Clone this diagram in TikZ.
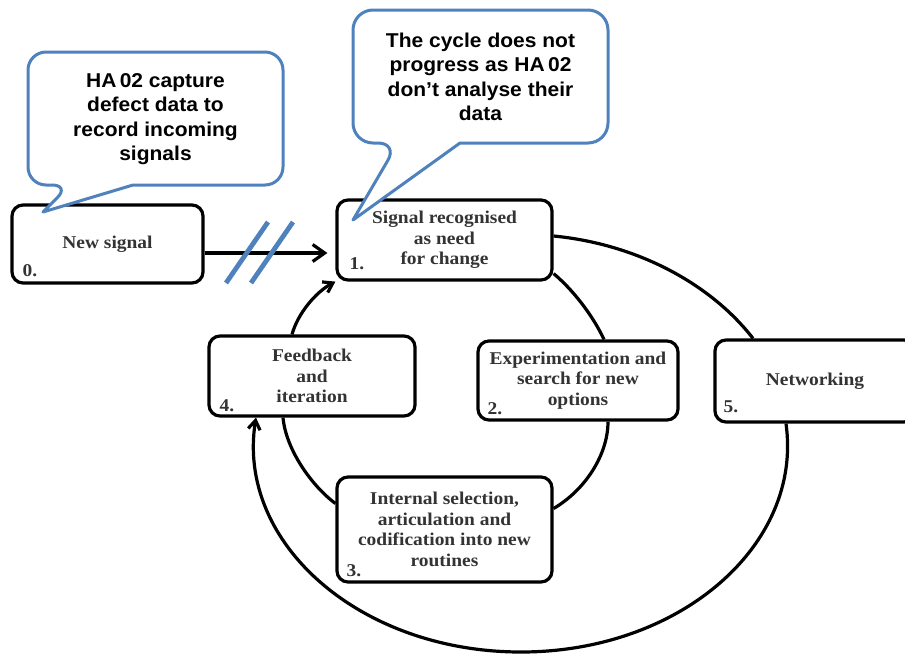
\documentclass[tikz,border=0pt]{standalone}
\usepackage{fontspec}
\setmainfont{Liberation Serif}
\newfontfamily\stagefont[FakeStretch=1.08]{Liberation Serif}
\newfontfamily\calloutfont[FakeStretch=1.05]{Liberation Sans}
\usetikzlibrary{arrows.meta}
\definecolor{calloutblue}{RGB}{79,129,189}
\definecolor{boxtext}{gray}{0.2}

\begin{document}
\begin{tikzpicture}[x=1pt,y=-1pt,
  stage/.style={draw, line width=3.2pt, rounded corners=11pt, fill=white,
    inner sep=0pt, align=center, text=boxtext,
    font=\stagefont\bfseries\fontsize{18}{20.7}\selectfont},
  num/.style={anchor=base west, inner sep=0pt, text=boxtext,
    font=\stagefont\bfseries\fontsize{18}{20.7}\selectfont},
  link/.style={line width=3.2pt},
  callout/.style={draw=calloutblue, line width=3pt, fill=white, line join=round},
  callouttext/.style={align=center, inner sep=0pt,
    font=\calloutfont\bfseries\fontsize{20}{24.5}\selectfont},
  slash/.style={draw=calloutblue, line width=4.8pt},
  bigtip/.style={-{Straight Barb[length=12pt,width=17pt]}},
  smalltip/.style={-{Straight Barb[length=9pt,width=12pt]}},
]
\clip (0,0) rectangle (905,657);

% stages of the cycle
\node[stage, minimum width=191pt, minimum height=78pt] (b0) at (107.5,244) {New signal};
\node[stage, minimum width=215pt, minimum height=80pt] (b1) at (444.5,240) {Signal recognised\\as need\\for change};
\node[stage, minimum width=200pt, minimum height=79pt] (b2) at (578,380.5) {Experimentation and\\search for new\\options};
\node[stage, minimum width=215pt, minimum height=105pt] (b3) at (444.5,529.5) {Internal selection,\\articulation and\\codification into new\\routines};
\node[stage, minimum width=206pt, minimum height=80pt] (b4) at (312,376) {Feedback\\and\\iteration};
\node[stage, minimum width=200pt, minimum height=82pt] (b5) at (815,381) {Networking};

% step numbers
\node[num] (n0) at ([shift={(12,-8)}]b0.south west) {0.};
\node[num] (n1) at ([shift={(14,-12)}]b1.south west) {1.};
\node[num] (n2) at ([shift={(11,-7)}]b2.south west) {2.};
\node[num] (n3) at ([shift={(11,-7)}]b3.south west) {3.};
\node[num] (n4) at ([shift={(12,-6)}]b4.south west) {4.};
\node[num] (n5) at ([shift={(10,-11)}]b5.south west) {5.};

% broken link from the new signal into the cycle
\coordinate (a0) at ([yshift=-9pt]b0.east);
\draw[link, bigtip, shorten >=8pt] (a0) -- (a0 -| b1.west);
\draw[slash] (226,283) -- (268,222);
\draw[slash] (251,283) -- (293,222);

% inner cycle
\draw[link] ([yshift=8pt]b1.south east) .. controls (572,289) and (592,314) .. ([xshift=26pt]b2.north);
\draw[link] ([xshift=30pt]b2.south) .. controls (608,455) and (585,490) .. ([yshift=21pt]b3.east);
\draw[link] ([yshift=26pt]b3.west) .. controls (312,486) and (286,450) .. ([xshift=-29pt]b4.south);
\draw[link, smalltip] ([xshift=-20pt]b4.north) .. controls (298,313) and (316,292) .. (b1.south west);

% outer loop through networking
\draw[link] ([yshift=4pt]b1.east) .. controls (636,244) and (710,283) .. ([xshift=-62pt]b5.north);
\coordinate (obot) at (521,652);
\draw[link, smalltip] ([xshift=-29pt]b5.south) .. controls (803,545) and (680,652) .. (obot)
  .. controls (360,652) and (236,543) .. ([xshift=-56pt]b4.south);

% speech bubbles
\draw[callout] (28,120) [rounded corners=18pt] -- (28,185) -- (70,185) [sharp corners] -- (43,212)
  -- (133,185) [rounded corners=18pt] -- (283,185) -- (283,52) -- (28,52) -- cycle;
\node[callouttext] (t1) at (155.5,119) {HA\,02 capture\\defect data to\\record incoming\\signals};

\draw[callout] (353,80) [rounded corners=20pt] -- (353,143) -- (398,143) [sharp corners] -- (353,220)
  -- (460,143) [rounded corners=20pt] -- (608,143) -- (608,10) -- (353,10) -- cycle;
\node[callouttext] (t2) at (480.5,77) {The cycle does not\\progress as HA\,02\\don’t analyse their\\data};
\end{tikzpicture}
\end{document}
